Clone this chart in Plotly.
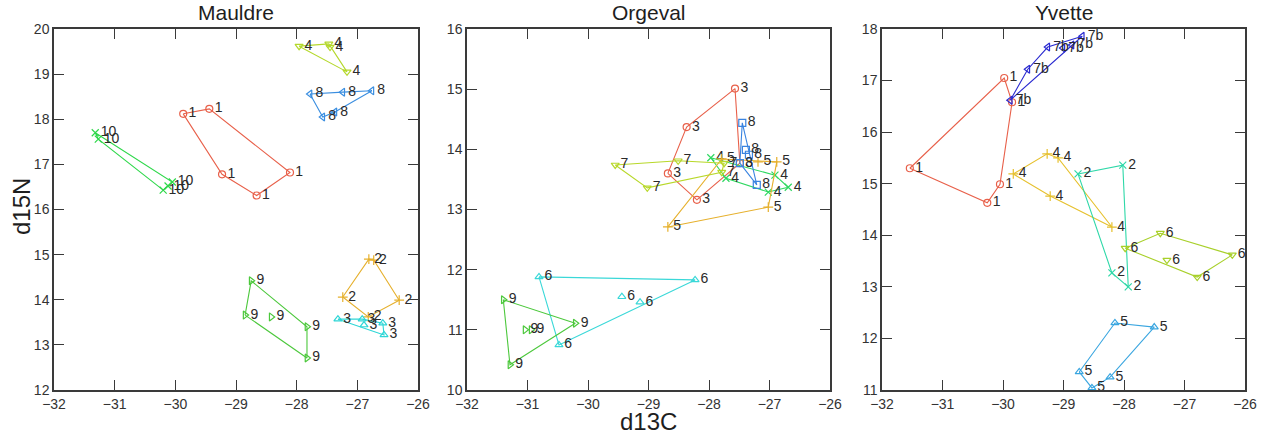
import plotly.graph_objects as go

# ---------------- data ----------------
panel_titles = ["Mauldre", "Orgeval", "Yvette"]
x_label = "d13C"
y_label = "d15N"
x_ticks = [-32, -31, -30, -29, -28, -27, -26]

mauldre_x = {
    "1": [-29.87, -29.44, -29.23, -28.66, -28.11],
    "10": [-31.32, -31.27, -30.05, -30.12, -30.20],
    "4": [-27.96, -27.47, -27.45, -27.17],
    "8": [-27.78, -27.24, -26.76, -27.57, -27.37],
    "9": [-28.75, -28.85, -28.42, -27.83, -27.83],
    "2": [-26.81, -26.73, -27.24, -26.31, -26.82],
    "3": [-27.32, -26.92, -26.89, -26.58, -26.56],
}
mauldre_y = {
    "1": [18.12, 18.23, 16.78, 16.31, 16.82],
    "10": [17.70, 17.56, 16.61, 16.52, 16.43],
    "4": [19.62, 19.67, 19.60, 19.05],
    "8": [18.56, 18.60, 18.63, 18.05, 18.16],
    "9": [14.42, 13.66, 13.62, 13.40, 12.71],
    "2": [14.90, 14.88, 14.06, 13.99, 13.62],
    "3": [13.57, 13.57, 13.44, 13.48, 13.22],
}

orgeval_x = {
    "3": [-27.57, -28.37, -28.68, -28.20, -27.49],
    "4": [-27.97, -26.69, -27.02, -27.72, -26.91],
    "5": [-28.68, -27.02, -26.88, -27.19, -27.79],
    "8": [-27.45, -27.39, -27.34, -27.21, -27.49],
    "7": [-29.55, -28.51, -29.02, -27.79, -27.75],
    "6": [-30.81, -30.48, -29.44, -29.14, -28.23],
    "9": [-31.40, -30.21, -31.29, -31.04, -30.94],
}
orgeval_y = {
    "3": [15.01, 14.37, 13.60, 13.16, 13.77],
    "4": [13.86, 13.37, 13.29, 13.52, 13.57],
    "5": [12.71, 13.04, 13.79, 13.79, 13.84],
    "8": [14.44, 13.99, 13.91, 13.41, 13.77],
    "7": [13.74, 13.81, 13.36, 13.62, 13.77],
    "6": [11.88, 10.75, 11.55, 11.46, 11.83],
    "9": [11.50, 11.11, 10.42, 11.00, 11.00],
}

yvette_x = {
    "1": [-31.54, -30.26, -30.05, -29.98, -29.85],
    "7b": [-29.88, -29.59, -29.26, -29.01, -28.86, -28.69],
    "4": [-29.83, -29.27, -29.09, -29.22, -28.20],
    "2": [-28.76, -28.02, -28.20, -27.93],
    "6": [-27.40, -27.98, -27.29, -26.79, -26.21],
    "5": [-28.15, -27.50, -28.74, -28.23, -28.53],
}
yvette_y = {
    "1": [15.30, 14.63, 14.99, 17.05, 16.58],
    "7b": [16.62, 17.22, 17.65, 17.63, 17.69, 17.86],
    "4": [15.19, 15.58, 15.50, 14.76, 14.16],
    "2": [15.19, 15.36, 13.27, 13.00],
    "6": [14.04, 13.75, 13.52, 13.19, 13.62],
    "5": [12.30, 12.22, 11.35, 11.25, 11.04],
}

y_ranges = [(12, 20), (10, 16), (11, 18)]

# ---------------- styles ----------------
styles = [
    {  # Mauldre
        "1": ("#e8604a", "circle-open"),
        "10": ("#2ed84a", "x-thin-open"),
        "4": ("#b4d82a", "triangle-down-open"),
        "8": ("#3a8ee0", "triangle-left-open"),
        "9": ("#4cc83c", "triangle-right-open"),
        "2": ("#e6b02c", "cross-thin-open"),
        "3": ("#2ed6d6", "triangle-up-open"),
    },
    {  # Orgeval
        "3": ("#e8604a", "circle-open"),
        "4": ("#2ed860", "x-thin-open"),
        "5": ("#e6b02c", "cross-thin-open"),
        "8": ("#3a84e0", "square-open"),
        "7": ("#b8d82a", "triangle-down-open"),
        "6": ("#3ad8d8", "triangle-up-open"),
        "9": ("#4cc83c", "triangle-right-open"),
    },
    {  # Yvette
        "1": ("#e8604a", "circle-open"),
        "7b": ("#2a2ad0", "triangle-left-open"),
        "4": ("#e6c02c", "cross-thin-open"),
        "2": ("#2ed8a8", "x-thin-open"),
        "6": ("#a8d02a", "triangle-down-open"),
        "5": ("#3aa6e0", "triangle-up-open"),
    },
]


def convex_hull(xs, ys):
    pts = sorted(set(zip(xs, ys)))
    if len(pts) <= 2:
        return pts

    def cross(o, a, b):
        return (a[0] - o[0]) * (b[1] - o[1]) - (a[1] - o[1]) * (b[0] - o[0])

    lower = []
    for p in pts:
        while len(lower) >= 2 and cross(lower[-2], lower[-1], p) <= 0:
            lower.pop()
        lower.append(p)
    upper = []
    for p in reversed(pts):
        while len(upper) >= 2 and cross(upper[-2], upper[-1], p) <= 0:
            upper.pop()
        upper.append(p)
    return lower[:-1] + upper[:-1]


fig = go.Figure()
W, H = 1266, 439
x_domains = [(54, 418), (467, 830), (882, 1245)]
top_px, bot_px = 29, 390
ydom = [1 - bot_px / H, 1 - top_px / H]

panels = [(mauldre_x, mauldre_y), (orgeval_x, orgeval_y), (yvette_x, yvette_y)]
font_family = "Liberation Sans, Arial, sans-serif"

for i, (px, py) in enumerate(panels):
    xa = "x" if i == 0 else f"x{i+1}"
    ya = "y" if i == 0 else f"y{i+1}"
    for g in px:
        color, sym = styles[i][g]
        hull = convex_hull(px[g], py[g])
        hx = [p[0] for p in hull] + [hull[0][0]]
        hy = [p[1] for p in hull] + [hull[0][1]]
        fig.add_trace(go.Scatter(
            x=hx, y=hy, mode="lines", xaxis=xa, yaxis=ya,
            line=dict(color=color, width=1.1), hoverinfo="skip",
            showlegend=False))
        fig.add_trace(go.Scatter(
            x=px[g], y=py[g], mode="markers+text", xaxis=xa, yaxis=ya,
            marker=dict(symbol=sym, size=7, color=color,
                        line=dict(color=color, width=1.2)),
            text=[g] * len(px[g]), textposition="middle right",
            textfont=dict(family=font_family, size=14, color="#2a2a2a"),
            cliponaxis=False,
            showlegend=False))

axis_common = dict(showline=True, linecolor="#3a3a3a", linewidth=1.5,
                   mirror="ticks", ticks="inside", ticklen=10,
                   tickcolor="#3a3a3a", tickwidth=1.3, showgrid=False,
                   zeroline=False, automargin=False,
                   tickfont=dict(family=font_family, size=14, color="#333333"))

layout = dict(width=W, height=H, margin=dict(l=0, r=0, t=0, b=0, pad=0),
              paper_bgcolor="white", plot_bgcolor="white",
              showlegend=False)
for i in range(3):
    xk = "xaxis" if i == 0 else f"xaxis{i+1}"
    yk = "yaxis" if i == 0 else f"yaxis{i+1}"
    ya = "y" if i == 0 else f"y{i+1}"
    xa = "x" if i == 0 else f"x{i+1}"
    d0, d1 = x_domains[i]
    layout[xk] = dict(axis_common, domain=[d0 / W, d1 / W], range=[-32, -26],
                      tickvals=x_ticks, anchor=ya)
    lo, hi = y_ranges[i]
    layout[yk] = dict(axis_common, domain=ydom, range=[lo, hi],
                      tickvals=list(range(lo, hi + 1)), anchor=xa)

fig.update_layout(**layout)

ann = []
for i, t in enumerate(panel_titles):
    d0, d1 = x_domains[i]
    ann.append(dict(text=t, x=(d0 + d1) / 2 / W, y=1 - 13 / H, xref="paper",
                    yref="paper", showarrow=False, xanchor="center",
                    yanchor="middle",
                    font=dict(family=font_family, size=21, color="#1e1e1e")))
ann.append(dict(text=x_label, x=(x_domains[1][0] + x_domains[1][1]) / 2 / W,
                y=1 - 421 / H, xref="paper", yref="paper", showarrow=False,
                xanchor="center", yanchor="middle",
                font=dict(family=font_family, size=24, color="#1e1e1e")))
ann.append(dict(text=y_label, x=21 / W, y=1 - 207 / H, xref="paper",
                yref="paper", showarrow=False, textangle=-90,
                xanchor="center", yanchor="middle",
                font=dict(family=font_family, size=24, color="#1e1e1e")))
fig.update_layout(annotations=ann)

fig.write_html("out.html")
